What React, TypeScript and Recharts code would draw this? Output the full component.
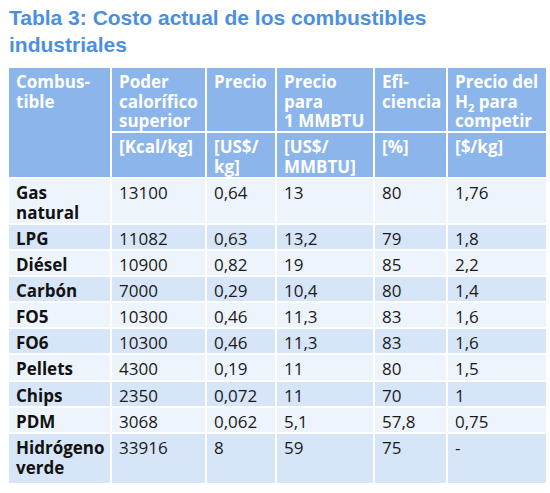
import React from "react";
import { ScatterChart, XAxis, YAxis, ReferenceArea } from "recharts";

// ---------- DATA ----------
const TITLE_LINES = ["Tabla 3: Costo actual de los combustibles", "industriales"];
const headerLabels: string[][] = [
  ["Combus-", "tible"],
  ["Poder", "calorífico", "superior"],
  ["Precio"],
  ["Precio", "para", "1 MMBTU"],
  ["Efi-", "ciencia"],
  ["Precio del", "H_2 para", "competir"],
];
const unitLabels: string[][] = [[], ["[Kcal/kg]"], ["[US$/", "kg]"], ["[US$/", "MMBTU]"], ["[%]"], ["[$/kg]"]];
const fuels = ["Gas natural", "LPG", "Diésel", "Carbón", "FO5", "FO6", "Pellets", "Chips", "PDM", "Hidrógeno verde"];
const poderCalorifico = [13100, 11082, 10900, 7000, 10300, 10300, 4300, 2350, 3068, 33916];
const precioKg = [0.64, 0.63, 0.82, 0.29, 0.46, 0.46, 0.19, 0.072, 0.062, 8];
const precioMMBTU = [13, 13.2, 19, 10.4, 11.3, 11.3, 11, 11, 5.1, 59];
const eficiencia = [80, 79, 85, 80, 83, 83, 80, 70, 57.8, 75];
const precioH2: (number | null)[] = [1.76, 1.8, 2.2, 1.4, 1.6, 1.6, 1.5, 1, 0.75, null];

// ---------- LAYOUT ----------
const W = 550;
const H = 493;
const COL_EDGES = [8, 111, 206, 276, 374, 447, 547];
const HEADER_EDGES = [67, 132, 178];
const ROW_EDGES = [178, 224, 250, 276, 302, 328, 354, 381, 407, 433, 484];
const PAD_X = 8;
const BASE_OFF = 21;
const LINE_H = 19.5;
const FONT = "'Open Sans', 'DejaVu Sans', sans-serif";
const FS = 17;

const C_TITLE = "#4a90e2";
const C_HEAD = "#8cb5ec";
const C_ODD = "#eef4fc";
const C_EVEN = "#d6e5f8";

const fmt = (v: number | null) => (v === null ? "-" : String(v).replace(".", ","));

type Cell = {
  key: string;
  c0: number;
  c1: number;
  y1: number;
  y2: number;
  lines: string[];
  fill: string;
  color: string;
  bold: boolean;
};

const renderLine = (s: string) => {
  if (s.includes("_2")) {
    const [a, b] = s.split("_2");
    return (
      <>
        {a}
        <tspan fontSize={FS * 0.65} dy={4}>2</tspan>
        <tspan dy={-4}>{b}</tspan>
      </>
    );
  }
  return s;
};

const makeShape = (cell: Cell) => (props: any) => {
  const { x, y, width, height } = props;
  return (
    <g>
      <rect x={x + 1} y={y + 1} width={width - 2} height={height - 2} fill={cell.fill} />
      {cell.lines.map((ln, i) => (
        <text
          key={i}
          x={x + PAD_X}
          y={y + BASE_OFF + i * LINE_H}
          fontFamily={FONT}
          fontSize={FS}
          fontWeight={cell.bold ? 700 : 400}
          fill={cell.color}
        >
          {renderLine(ln)}
        </text>
      ))}
    </g>
  );
};

const cells: Cell[] = [];
headerLabels.forEach((lines, i) => {
  if (i === 0) {
    cells.push({ key: `h${i}`, c0: i, c1: i + 1, y1: HEADER_EDGES[0], y2: HEADER_EDGES[2], lines, fill: C_HEAD, color: "#ffffff", bold: true });
  } else {
    cells.push({ key: `h${i}`, c0: i, c1: i + 1, y1: HEADER_EDGES[0], y2: HEADER_EDGES[1], lines, fill: C_HEAD, color: "#ffffff", bold: true });
    cells.push({ key: `u${i}`, c0: i, c1: i + 1, y1: HEADER_EDGES[1], y2: HEADER_EDGES[2], lines: unitLabels[i], fill: C_HEAD, color: "#ffffff", bold: true });
  }
});
fuels.forEach((f, r) => {
  const fill = r % 2 === 0 ? C_ODD : C_EVEN;
  const vals = [f.split(" "), [fmt(poderCalorifico[r])], [fmt(precioKg[r])], [fmt(precioMMBTU[r])], [fmt(eficiencia[r])], [fmt(precioH2[r])]];
  vals.forEach((lines, c) => {
    cells.push({ key: `r${r}c${c}`, c0: c, c1: c + 1, y1: ROW_EDGES[r], y2: ROW_EDGES[r + 1], lines, fill, color: c === 0 ? "#111111" : "#1a1a1a", bold: c === 0 });
  });
});

export default function App() {
  return (
    <div style={{ position: "absolute", left: 0, top: 0, width: W, height: H, background: "#ffffff" }}>
      <div
        style={{
          position: "absolute",
          left: 9,
          top: 4,
          fontFamily: "'Liberation Sans', Arial, sans-serif",
          fontWeight: 700,
          fontSize: 21,
          lineHeight: "27px",
          color: C_TITLE,
          whiteSpace: "nowrap",
        }}
      >
        {TITLE_LINES.map((t, i) => (
          <div key={i}>{t}</div>
        ))}
      </div>
      <ScatterChart width={W} height={H} margin={{ top: 0, right: 0, bottom: 0, left: 0 }}>
        <XAxis type="number" dataKey="x" domain={[0, W]} allowDataOverflow hide />
        <YAxis type="number" dataKey="y" domain={[0, H]} allowDataOverflow reversed hide />
        {cells.map((cell) => (
          <ReferenceArea
            key={cell.key}
            x1={COL_EDGES[cell.c0]}
            x2={COL_EDGES[cell.c1]}
            y1={cell.y1}
            y2={cell.y2}
            ifOverflow="visible"
            shape={makeShape(cell)}
          />
        ))}
      </ScatterChart>
    </div>
  );
}
